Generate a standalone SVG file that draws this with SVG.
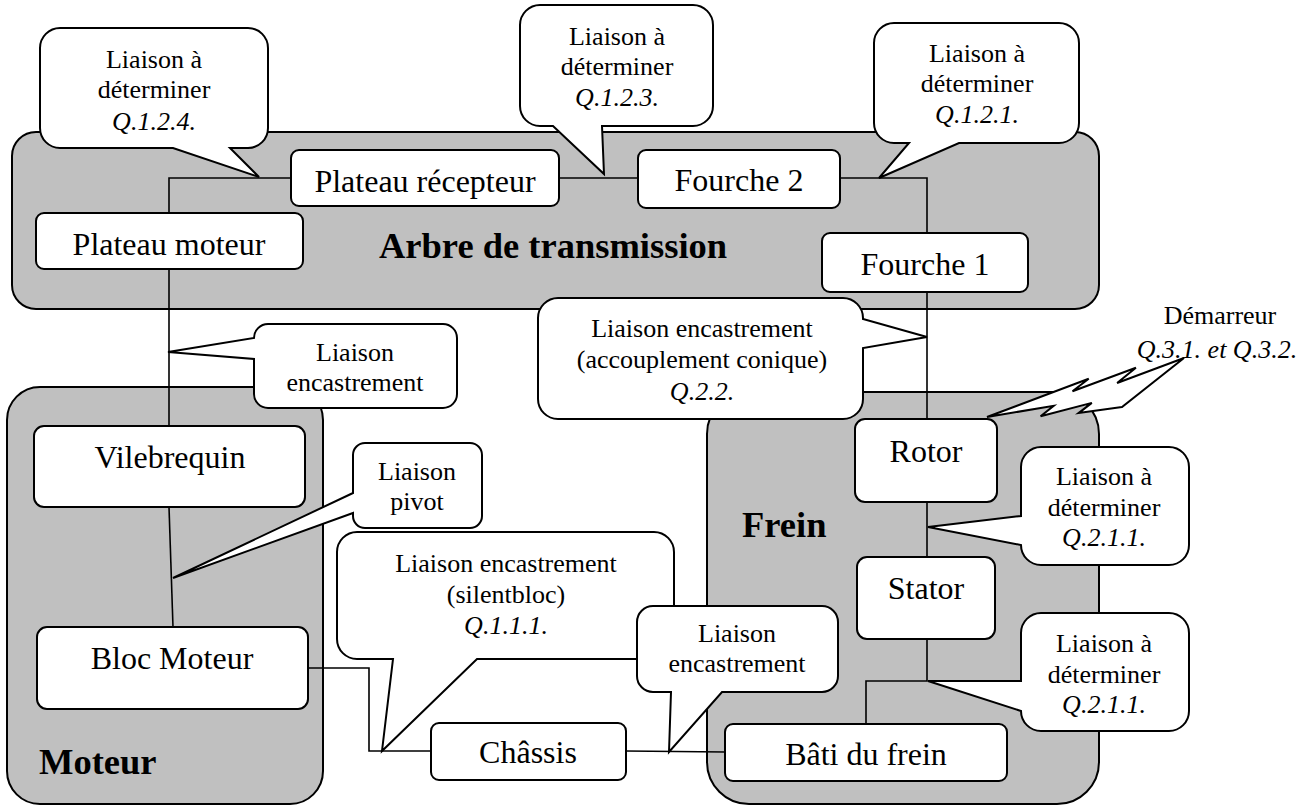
<svg xmlns="http://www.w3.org/2000/svg" width="1313" height="805" viewBox="0 0 1313 805">
<style>
.grp{fill:#c0c0c0;stroke:#000;stroke-width:2}
.node{fill:#fff;stroke:#000;stroke-width:2}
.call{fill:#fff;stroke:#000;stroke-width:2;stroke-linejoin:miter}
.con{fill:none;stroke:#000;stroke-width:1.6}
text{font-family:"Liberation Serif","Times New Roman",serif;fill:#000}
.nl{font-size:32px;text-anchor:middle}
.cl{font-size:26px;text-anchor:middle}
.it{font-style:italic}
.ttl{font-size:36.5px;font-weight:bold}
</style>
<rect width="1313" height="805" fill="#fff"/>
<g id="groups">
  <g id="g-arbre"><rect class="grp" x="12" y="132" width="1087" height="177" rx="24"/><text class="ttl" x="379" y="258">Arbre de transmission</text></g>
  <g id="g-moteur"><rect class="grp" x="7" y="387" width="316" height="417" rx="33"/><text class="ttl" x="39" y="774">Moteur</text></g>
  <g id="g-frein"><rect class="grp" x="707" y="392" width="392" height="412" rx="42"/><text class="ttl" x="742" y="537">Frein</text></g>
</g>
<g id="connectors">
  <polyline class="con" points="169,213 169,178 291,178"/>
  <line class="con" x1="169" y1="269" x2="169" y2="426"/>
  <line class="con" x1="559" y1="178" x2="638" y2="178"/>
  <polyline class="con" points="840,178 927,178 927,233"/>
  <line class="con" x1="927" y1="292" x2="927" y2="419"/>
  <line class="con" x1="169" y1="507" x2="173" y2="627"/>
  <polyline class="con" points="308,668 369,668 369,751 431,751"/>
  <line class="con" x1="626" y1="751" x2="725" y2="752"/>
  <line class="con" x1="927" y1="502" x2="927" y2="557"/>
  <polyline class="con" points="927,639 927,681 866,681 866,724"/>
</g>
<g id="n-plateau-moteur"><rect class="node" x="36" y="213" width="267" height="56" rx="8"/><text class="nl" x="169" y="255">Plateau moteur</text></g>
<g id="n-plateau-recepteur"><rect class="node" x="291" y="150" width="268" height="56" rx="8"/><text class="nl" x="425" y="192">Plateau récepteur</text></g>
<g id="n-fourche2"><rect class="node" x="638" y="150" width="202" height="58" rx="8"/><text class="nl" x="739" y="191">Fourche 2</text></g>
<g id="n-fourche1"><rect class="node" x="822" y="233" width="206" height="59" rx="8"/><text class="nl" x="925" y="275">Fourche 1</text></g>
<g id="n-vilebrequin"><rect class="node" x="34" y="426" width="271" height="81" rx="10"/><text class="nl" x="170" y="468">Vilebrequin</text></g>
<g id="n-bloc-moteur"><rect class="node" x="37" y="627" width="271" height="82" rx="10"/><text class="nl" x="172" y="669">Bloc Moteur</text></g>
<g id="n-chassis"><rect class="node" x="431" y="723" width="195" height="57" rx="8"/><text class="nl" x="528" y="763">Châssis</text></g>
<g id="n-bati"><rect class="node" x="725" y="724" width="282" height="57" rx="8"/><text class="nl" x="866" y="765">Bâti du frein</text></g>
<g id="n-rotor"><rect class="node" x="855" y="419" width="142" height="83" rx="10"/><text class="nl" x="926" y="462">Rotor</text></g>
<g id="n-stator"><rect class="node" x="857" y="557" width="138" height="82" rx="10"/><text class="nl" x="926" y="599">Stator</text></g>

<g id="c-q124"><path class="call" d="M60,28 H248 A20,20 0 0 1 268,48 V128 A20,20 0 0 1 248,148 H230 L259,177 L173,148 H60 A20,20 0 0 1 40,128 V48 A20,20 0 0 1 60,28 Z"/>
<text class="cl" x="154" y="68">Liaison à</text><text class="cl" x="154" y="98">déterminer</text><text class="cl it" x="154" y="130">Q.1.2.4.</text></g>
<g id="c-q123"><path class="call" d="M540,5 H693 A20,20 0 0 1 713,25 V106 A20,20 0 0 1 693,126 H602 L604,174 L553,126 H540 A20,20 0 0 1 520,106 V25 A20,20 0 0 1 540,5 Z"/>
<text class="cl" x="617" y="45">Liaison à</text><text class="cl" x="617" y="75">déterminer</text><text class="cl it" x="617" y="106">Q.1.2.3.</text></g>
<g id="c-q121"><path class="call" d="M894,23 H1059 A20,20 0 0 1 1079,43 V123 A20,20 0 0 1 1059,143 H959 L879,178 L909,143 H894 A20,20 0 0 1 874,123 V43 A20,20 0 0 1 894,23 Z"/>
<text class="cl" x="977" y="62">Liaison à</text><text class="cl" x="977" y="92">déterminer</text><text class="cl it" x="977" y="123">Q.1.2.1.</text></g>
<g id="c-encastrement1"><path class="call" d="M268,324 H443 A14,14 0 0 1 457,338 V394 A14,14 0 0 1 443,408 H268 A14,14 0 0 1 254,394 V359 L168,352 L254,338 A14,14 0 0 1 268,324 Z"/>
<text class="cl" x="355" y="361">Liaison</text><text class="cl" x="355" y="391">encastrement</text></g>
<g id="c-pivot"><path class="call" d="M365,443 H470 A12,12 0 0 1 482,455 V516 A12,12 0 0 1 470,528 H365 A12,12 0 0 1 353,516 V513 L173,578 L353,493 V455 A12,12 0 0 1 365,443 Z"/>
<text class="cl" x="417" y="480">Liaison</text><text class="cl" x="417" y="510">pivot</text></g>
<g id="c-silentbloc"><path class="call" d="M357,532 H654 A20,20 0 0 1 674,552 V639 A20,20 0 0 1 654,659 H477 L382,751 L393,659 H357 A20,20 0 0 1 337,639 V552 A20,20 0 0 1 357,532 Z"/>
<text class="cl" x="506" y="572">Liaison encastrement</text><text class="cl" x="506" y="603">(silentbloc)</text><text class="cl it" x="506" y="634">Q.1.1.1.</text></g>
<g id="c-encastrement2"><path class="call" d="M653,606 H822 A16,16 0 0 1 838,622 V676 A16,16 0 0 1 822,692 H722 L669,752 L671,692 H653 A16,16 0 0 1 637,676 V622 A16,16 0 0 1 653,606 Z"/>
<text class="cl" x="737" y="642">Liaison</text><text class="cl" x="737" y="672">encastrement</text></g>
<g id="c-conique"><path class="call" d="M558,298 H843 A20,20 0 0 1 863,318 V319 L927,337 L863,348 V399 A20,20 0 0 1 843,419 H558 A20,20 0 0 1 538,399 V318 A20,20 0 0 1 558,298 Z"/>
<text class="cl" x="702" y="337">Liaison encastrement</text><text class="cl" x="702" y="368">(accouplement conique)</text><text class="cl it" x="702" y="400">Q.2.2.</text></g>
<g id="c-q211a"><path class="call" d="M1041,447 H1169 A20,20 0 0 1 1189,467 V545 A20,20 0 0 1 1169,565 H1041 A20,20 0 0 1 1021,545 L928,527 L1021,516 V467 A20,20 0 0 1 1041,447 Z"/>
<text class="cl" x="1104" y="485">Liaison à</text><text class="cl" x="1104" y="516">déterminer</text><text class="cl it" x="1104" y="546">Q.2.1.1.</text></g>
<g id="c-q211b"><path class="call" d="M1041,613 H1169 A20,20 0 0 1 1189,633 V711 A20,20 0 0 1 1169,731 H1041 A20,20 0 0 1 1021,711 L928,681 L1021,681 V633 A20,20 0 0 1 1041,613 Z"/>
<text class="cl" x="1104" y="652">Liaison à</text><text class="cl" x="1104" y="683">déterminer</text><text class="cl it" x="1104" y="713">Q.2.1.1.</text></g>
<g id="c-demarreur"><path class="call" d="M1122,407 L1078.6,413.1 L1091.8,402.9 L1040.6,416.3 L1053.7,405.8 L987,417 L1088.7,378.7 L1072.5,391.3 L1135.9,367.7 L1117.1,383 L1184,358 Z"/>
<text class="cl" x="1220" y="324">Démarreur</text><text class="cl it" x="1217" y="358">Q.3.1. et Q.3.2.</text></g>
</svg>
